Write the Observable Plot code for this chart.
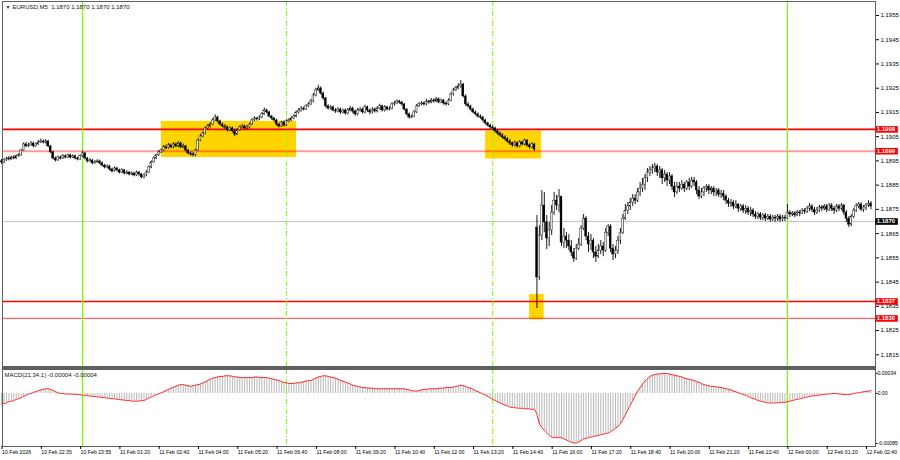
<!DOCTYPE html>
<html><head><meta charset="utf-8">
<script src="https://cdn.jsdelivr.net/npm/d3@7"></script>
<script src="https://cdn.jsdelivr.net/npm/@observablehq/plot@0.6"></script>
<style>
html,body{margin:0;padding:0;background:#fff;}
#wrap{position:relative;width:900px;height:460px;overflow:hidden;background:#fff;}
#main,#macd{position:absolute;left:0;}
#main{top:0;} #macd{top:368px;}
#sep{position:absolute;left:2px;top:366px;width:874px;height:3px;background:#5f5f5f;}
svg text{font-family:"Liberation Sans",Arial,sans-serif;}
</style></head><body>
<div id="wrap"><div id="main"></div><div id="sep"></div><div id="macd"></div></div>
<script>
// ---------- DATA ----------
const symbol = "EURUSD,M5";
const headerQuote = [1.1870, 1.1870, 1.1870, 1.1870];
const timeLabels = ["10 Feb 2026","10 Feb 22:35","10 Feb 23:55","11 Feb 01:20","11 Feb 02:40","11 Feb 04:00","11 Feb 05:20","11 Feb 06:40","11 Feb 08:00","11 Feb 09:20","11 Feb 10:40","11 Feb 12:00","11 Feb 13:20","11 Feb 14:40","11 Feb 16:00","11 Feb 17:20","11 Feb 18:40","11 Feb 20:00","11 Feb 21:20","11 Feb 22:40","12 Feb 00:00","12 Feb 01:20","12 Feb 02:40"];
const barsPerLabel = 16;
// prices in points above 1.18000 (price = 1.18 + v/100000), one per M5 bar
const open = [948,944,952,960,956,964,960,969,973,993,
1018,1010,1014,1022,1010,1018,1026,1030,1026,1030,
1010,985,960,952,964,960,969,964,973,964,
969,960,956,969,981,960,948,952,940,944,
948,940,931,923,927,915,907,919,911,902,
911,898,902,894,898,890,902,894,882,890,
902,923,944,960,973,985,993,1006,1002,1014,
1006,1018,1010,1022,1006,1010,993,981,977,973,
993,1034,1051,1063,1084,1092,1100,1117,1129,1113,
1100,1092,1088,1076,1084,1072,1059,1076,1088,1092,
1084,1088,1100,1117,1125,1121,1129,1142,1158,1150,
1133,1125,1117,1100,1092,1109,1096,1113,1117,1125,
1133,1150,1158,1166,1162,1175,1183,1195,1220,1241,
1249,1228,1208,1175,1166,1171,1158,1154,1162,1150,
1158,1146,1158,1166,1154,1142,1158,1162,1150,1171,
1158,1150,1162,1154,1166,1175,1158,1171,1162,1166,
1183,1187,1195,1191,1183,1162,1142,1129,1133,1150,
1175,1183,1187,1183,1195,1191,1199,1195,1204,1191,
1199,1187,1183,1199,1224,1241,1249,1257,1265,1216,
1183,1175,1162,1150,1142,1133,1129,1117,1105,1096,
1088,1084,1072,1063,1055,1047,1039,1030,1022,1014,
1022,1010,1026,1018,1034,1014,1006,1018,675,469,
642,766,696,630,663,737,786,766,803,613,
638,621,597,572,547,588,605,671,712,638,
605,621,572,555,580,597,580,654,679,588,
564,580,621,654,712,745,762,778,795,786,
820,836,852,878,902,911,919,927,902,911,
878,894,869,886,844,820,844,836,852,836,
861,844,869,861,828,803,820,836,844,828,
836,820,828,811,815,803,786,774,778,762,
770,753,762,745,753,737,745,729,720,729,
716,725,712,720,708,716,712,720,708,716,
712,737,729,733,725,737,733,745,741,753,
762,749,737,745,758,753,762,749,766,753,
745,762,753,766,737,712,687,720,745,762,
770,749,758,766,774];
const high = [956,958,966,968,970,972,975,980,998,1024,
1026,1022,1030,1028,1024,1034,1040,1036,1038,1034,
1014,990,966,970,970,976,974,978,978,975,
974,966,975,990,985,964,960,956,952,955,
954,946,936,934,932,920,925,924,916,918,
915,910,907,905,903,908,906,898,896,910,
928,950,966,978,992,1000,1014,1016,1022,1020,
1026,1024,1030,1028,1020,1014,998,988,984,998,
1040,1058,1070,1090,1100,1108,1125,1140,1134,1118,
1106,1100,1094,1090,1090,1078,1082,1094,1100,1098,
1096,1106,1124,1132,1130,1136,1150,1168,1164,1155,
1138,1130,1122,1106,1114,1115,1120,1124,1132,1140,
1156,1166,1174,1172,1182,1190,1204,1228,1250,1262,
1256,1234,1212,1182,1178,1176,1166,1170,1168,1164,
1164,1166,1174,1172,1160,1166,1170,1168,1180,1176,
1164,1170,1168,1174,1184,1180,1178,1176,1174,1190,
1196,1202,1200,1196,1188,1166,1148,1140,1158,1182,
1190,1194,1194,1204,1200,1208,1206,1212,1210,1206,
1204,1194,1206,1232,1250,1258,1268,1282,1270,1222,
1190,1180,1168,1156,1148,1140,1134,1122,1110,1102,
1096,1090,1078,1070,1062,1054,1046,1038,1028,1032,
1030,1034,1032,1040,1038,1020,1026,1022,725,683,
828,820,725,696,766,820,807,832,786,671,
654,646,621,588,605,630,683,729,720,654,
646,630,597,605,621,613,671,687,687,605,
597,638,671,729,770,778,795,811,811,836,
861,878,894,919,927,935,940,935,927,919,
911,902,902,894,861,861,861,869,861,869,
878,882,882,869,844,836,844,852,852,844,
844,836,836,828,828,811,795,791,786,786,
774,770,770,766,762,758,753,741,737,737,
733,733,729,729,725,725,729,729,725,725,
770,745,741,741,745,745,753,753,762,774,
770,758,758,766,766,770,770,774,774,762,
770,770,774,770,745,720,729,753,774,778,
778,766,774,786,782];
const low = [936,938,948,950,952,955,956,964,969,990,
1004,1005,1010,1004,1006,1014,1022,1020,1020,1004,
980,954,946,948,954,956,958,960,958,960,
954,950,952,964,954,942,944,934,936,940,
934,925,917,918,909,900,903,905,896,898,
892,894,888,889,884,886,887,876,876,884,
898,918,940,955,968,980,988,996,998,1000,
1000,1004,1004,1000,1000,988,975,970,966,968,
990,1030,1046,1058,1078,1086,1096,1112,1106,1094,
1086,1080,1070,1070,1066,1050,1055,1072,1082,1078,
1078,1082,1096,1112,1114,1116,1124,1138,1144,1128,
1118,1110,1094,1086,1088,1090,1092,1108,1112,1120,
1128,1144,1152,1156,1158,1170,1178,1190,1214,1236,
1222,1200,1170,1160,1160,1152,1146,1148,1142,1144,
1138,1140,1152,1146,1134,1136,1152,1144,1144,1150,
1140,1144,1148,1148,1160,1152,1152,1156,1156,1160,
1176,1182,1184,1176,1156,1136,1122,1124,1128,1146,
1170,1178,1176,1178,1184,1186,1188,1190,1186,1186,
1180,1176,1178,1194,1218,1236,1244,1250,1210,1176,
1168,1156,1144,1136,1126,1122,1110,1098,1090,1080,
1076,1064,1056,1048,1040,1032,1024,1014,1006,1008,
1002,1004,1012,1012,1006,998,1000,990,341,457,
621,654,584,597,642,725,745,737,597,588,
588,580,555,531,539,580,597,663,621,572,
580,547,531,547,564,555,572,638,572,539,
547,564,605,646,704,729,745,762,770,778,
803,820,828,861,886,894,902,886,878,852,
861,844,852,828,799,811,820,828,820,828,
828,836,844,811,791,795,803,820,811,811,
803,803,799,795,786,770,758,758,749,753,
737,741,733,729,725,720,716,708,708,704,
704,700,704,696,700,696,700,696,700,700,
708,716,720,716,720,720,729,729,733,741,
737,725,729,737,741,745,737,741,741,729,
737,741,745,725,696,675,679,712,737,753,
741,737,745,758,749];
const close = [944,952,960,956,964,960,969,973,993,1018,
1010,1014,1022,1010,1018,1026,1030,1026,1030,1010,
985,960,952,964,960,969,964,973,964,969,
960,956,969,981,960,948,952,940,944,948,
940,931,923,927,915,907,919,911,902,911,
898,902,894,898,890,902,894,882,890,902,
923,944,960,973,985,993,1006,1002,1014,1006,
1018,1010,1022,1006,1010,993,981,977,973,993,
1034,1051,1063,1084,1092,1100,1117,1129,1113,1100,
1092,1088,1076,1084,1072,1059,1076,1088,1092,1084,
1088,1100,1117,1125,1121,1129,1142,1158,1150,1133,
1125,1117,1100,1092,1109,1096,1113,1117,1125,1133,
1150,1158,1166,1162,1175,1183,1195,1220,1241,1249,
1228,1208,1175,1166,1171,1158,1154,1162,1150,1158,
1146,1158,1166,1154,1142,1158,1162,1150,1171,1158,
1150,1162,1154,1166,1175,1158,1171,1162,1166,1183,
1187,1195,1191,1183,1162,1142,1129,1133,1150,1175,
1183,1187,1183,1195,1191,1199,1195,1204,1191,1199,
1187,1183,1199,1224,1241,1249,1257,1265,1216,1183,
1175,1162,1150,1142,1133,1129,1117,1105,1096,1088,
1084,1072,1063,1055,1047,1039,1030,1022,1014,1022,
1010,1026,1018,1034,1014,1006,1018,997,469,642,
766,696,630,663,737,786,766,803,613,638,
621,597,572,547,588,605,671,712,638,605,
621,572,555,580,597,580,654,679,588,564,
580,621,654,712,745,762,778,795,786,820,
836,852,878,902,911,919,927,902,911,878,
894,869,886,844,820,844,836,852,836,861,
844,869,861,828,803,820,836,844,828,836,
820,828,811,815,803,786,774,778,762,770,
753,762,745,753,737,745,729,720,729,716,
725,712,720,708,716,712,720,708,716,712,
737,729,733,725,737,733,745,741,753,762,
749,737,745,758,753,762,749,766,753,745,
762,753,766,737,712,687,720,745,762,770,
749,758,766,774,762];
// MACD(21,34,1) main value per bar, in units of 0.00001
const macd = [-18,-17,-16,-14,-13,-12,-10,-9,-7,
-5,-3,-1,0,2,3,5,
6,7,8,8,7,5,3,1,
0,0,-1,-1,-1,-1,-2,-2,-2,
-3,-3,-4,-4,-5,-5,-6,-6,
-7,-7,-8,-8,-9,-9,-10,
-10,-11,-11,-12,-12,-13,-13,-13,-13,-12,-12,
-10,-8,-6,-4,-2,-1,1,
3,5,7,9,11,12,14,15,
15,14,13,12,13,14,15,16,
18,20,22,24,26,27,28,29,29,30,30,
30,29,28,28,27,
27,27,27,27,27,28,28,27,27,27,27,
26,25,24,23,22,20,19,18,
17,17,17,18,18,19,20,21,22,22,
24,26,28,29,30,
30,29,28,27,
26,24,22,21,19,18,16,14,13,12,11,
10,10,9,9,9,8,8,8,8,8,8,8,8,8,8,8,8,8,
7,6,5,4,4,5,6,7,7,8,8,
8,8,9,9,9,10,10,10,
11,12,13,14,13,12,10,9,
7,5,3,1,-1,-3,-5,-8,-10,
-12,-14,-16,-18,-20,-21,-23,
-24,-24,-25,-25,-25,-26,-26,-26,-27,-27,
-35,-52,-58,-63,-67,-71,-74,
-75,-75,-75,-75,-77,-79,-81,-83,-84,
-84,-82,-80,-77,
-76,-75,-74,-73,-72,-71,-70,
-69,-68,-67,-65,-62,-59,-56,-52,
-44,-36,-28,-20,-12,-4,4,
10,16,21,25,29,
31,32,33,33,34,34,34,
33,32,31,30,29,28,26,
25,24,23,22,20,19,17,15,
14,13,12,12,11,11,10,9,
8,7,6,4,3,1,
0,-2,-3,-5,-7,
-9,-10,-12,-13,-14,-15,-16,
-16,-16,-16,-16,-15,-15,-15,-14,
-13,-12,-11,-10,-9,-8,-7,
-6,-5,-4,-4,-3,
-3,-2,-2,-1,-1,0,0,
0,-1,-1,-2,-2,
-2,-1,0,1,1,2,3,3,4,5];
const macdTitle = "MACD(21,34,1)";
const macdReadout = [-0.00004, -0.00004];
const levels = [1.1908, 1.1899, 1.1837, 1.1830];
const bidPrice = 1.1870;
const priceTicks = [1.1815,1.1825,1.1835,1.1845,1.1855,1.1865,1.1875,1.1885,1.1895,1.1905,1.1915,1.1925,1.1935,1.1945,1.1955];
const macdTicks = [0.00034, 0, -0.00085];
// highlighted zones: bar-index span and price span
const zoneStart = [65.1, 197.1, 215.0];
const zoneEnd = [120.1, 219.9, 220.9];
const zoneTop = [1.19113, 1.19073, 1.18399];
const zoneBottom = [1.18964, 1.18958, 1.18294];
const dayMarks = [33, 320];      // 11 Feb 00:00, 12 Feb 00:00
const sessionMarks = [116, 200]; // 11 Feb 07:00, 11 Feb 14:00

// ---------- STYLE ----------
const levelColor = ["#ff0000", "#ff0000", "#ff0000", "#ff0000"];
const levelOpacity = [1, 0.4, 1, 0.6];
const levelWidth = [1.6, 2, 1.6, 1.2];
const FONT = "Liberation Sans, Arial, sans-serif";

// ---------- BUILD ----------
const n = Math.min(open.length, high.length, low.length, close.length);
const P = v => 1.18 + v / 100000;
const bars = d3.range(n).map(i => ({i, o: P(open[i]), h: P(high[i]), l: P(low[i]), c: P(close[i])}));
const macdRows = macd.map((m, i) => ({i, m: m / 100000}));
const xDomain = [0.4, 355.85];
const xMax = xDomain[1];
const zones = zoneStart.map((s, k) => ({x1: s, x2: zoneEnd[k], y1: zoneBottom[k], y2: zoneTop[k]}));
const tickIdx = timeLabels.map((_, k) => k * barsPerLabel);

const labelBox = (vals, color) => [
  Plot.ruleY(vals, {x1: xMax + 0.15, x2: xMax + 9.3, stroke: color, strokeWidth: 6.6}),
  Plot.text(vals, {x: xMax + 0.5, y: d => d, text: d => d.toFixed(4), fill: "white", textAnchor: "start", fontSize: 6, fontWeight: "bold"})
];

const main = Plot.plot({
  width: 900, height: 367,
  marginLeft: 2, marginRight: 25, marginTop: 1, marginBottom: 0,
  x: {domain: xDomain, axis: null, label: null},
  y: {domain: [1.180976, 1.196078], axis: null, label: null},
  style: {background: "transparent", fontFamily: FONT, fontSize: "6px", overflow: "visible"},
  marks: [
    Plot.rect(zones, {x1: "x1", x2: "x2", y1: "y1", y2: "y2", fill: "#ffd400"}),
    Plot.ruleY([bidPrice], {stroke: "#c4c4c4", strokeWidth: 1}),
    ...levels.map((p, k) => Plot.ruleY([p], {stroke: levelColor[k], strokeOpacity: levelOpacity[k], strokeWidth: levelWidth[k]})),
    Plot.ruleX(dayMarks, {stroke: "#7cfc00", strokeWidth: 1.3}),
    Plot.ruleX(sessionMarks, {stroke: "#7cfc00", strokeWidth: 1, strokeDasharray: "5,2,1,2"}),
    Plot.ruleX(bars, {x: "i", y1: "l", y2: "h", stroke: "#000", strokeWidth: 0.9}),
    Plot.rect(bars, {x1: d => d.i - 0.38, x2: d => d.i + 0.38, y1: "o", y2: "c",
      fill: d => d.c >= d.o ? "#f4f4f4" : "#000000", stroke: "#000", strokeWidth: 0.4}),
    Plot.frame({stroke: "#606060"}),
    Plot.axisY(priceTicks, {anchor: "right", label: null, tickSize: 3, tickPadding: 2, tickFormat: d => d.toFixed(4), fontSize: 6, fill: "#000"}),
    ...labelBox(levels, "#ff0000"),
    ...labelBox([bidPrice], "#000000"),
    Plot.text(["\u25BC"], {frameAnchor: "top-left", dx: 3, dy: 4, fontSize: 5, textAnchor: "start", lineAnchor: "top", fill: "#222"}),
    Plot.text([symbol + "  " + headerQuote.map(v => v.toFixed(4)).join(" ")], {frameAnchor: "top-left", dx: 10, dy: 3, fontSize: 6, textAnchor: "start", lineAnchor: "top", fill: "#111"})
  ]
});
document.getElementById("main").appendChild(main);

const macdPlot = Plot.plot({
  width: 900, height: 92,
  marginLeft: 2, marginRight: 25, marginTop: 1, marginBottom: 14,
  x: {domain: xDomain, axis: null, label: null},
  y: {domain: [-0.000900, 0.000407], axis: null, label: null},
  style: {background: "transparent", fontFamily: FONT, fontSize: "6px", overflow: "visible"},
  marks: [
    Plot.ruleX(macdRows, {x: "i", y1: 0, y2: "m", stroke: "#b8b8b8", strokeWidth: 1}),
    Plot.ruleX(dayMarks, {stroke: "#7cfc00", strokeWidth: 1.3}),
    Plot.ruleX(sessionMarks, {stroke: "#7cfc00", strokeWidth: 1, strokeDasharray: "5,2,1,2"}),
    Plot.line(macdRows, {x: "i", y: "m", stroke: "#ff2a2a", strokeWidth: 1}),
    Plot.frame({stroke: "#606060"}),
    Plot.axisY(macdTicks, {anchor: "right", label: null, tickSize: 1.5, tickPadding: 0.5, tickFormat: d => d === 0 ? "0.00" : d.toFixed(5), fontSize: 5.2, fill: "#000"}),
    Plot.axisX(tickIdx, {anchor: "bottom", label: null, tickSize: 3, tickPadding: 1, tickFormat: d => timeLabels[Math.round(d / barsPerLabel)], textAnchor: "start", dx: 0.5, fontSize: 5.2, fill: "#000"}),
    Plot.text([macdTitle + " " + macdReadout.map(v => v.toFixed(5)).join(" ")], {frameAnchor: "top-left", dx: 2, dy: 3, fontSize: 6, textAnchor: "start", lineAnchor: "top", fill: "#111"})
  ]
});
document.getElementById("macd").appendChild(macdPlot);
</script>
</body></html>
